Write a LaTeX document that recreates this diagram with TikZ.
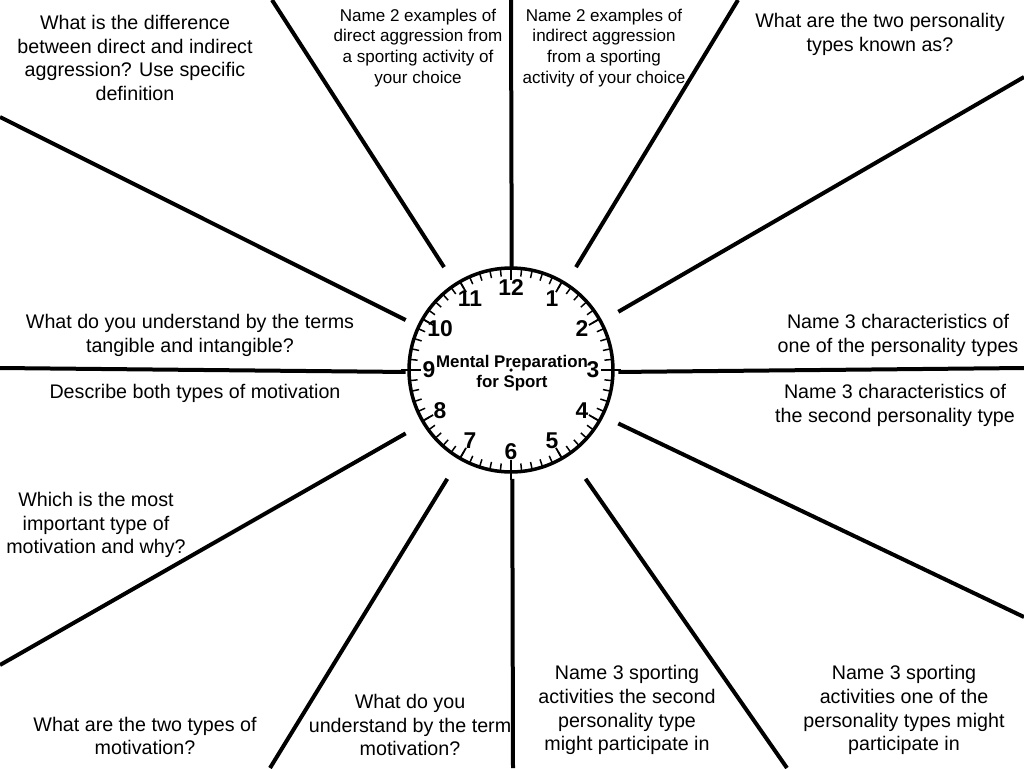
\documentclass[tikz,border=0pt]{standalone}
\usepackage{fontspec}
\setmainfont{Liberation Sans}
\usetikzlibrary{calc}

\begin{document}
\begin{tikzpicture}[x=0.02cm, y=-0.02cm,
  spoke/.style={black, line width=0.08cm},
  question/.style={align=center, inner sep=0, font=\fontsize{11.2}{13.6}\selectfont},
  smallq/.style={align=center, inner sep=0, font=\fontsize{9.7}{11.9}\selectfont},
  hour/.style={inner sep=0, font=\bfseries\fontsize{13}{13}\selectfont}]
\useasboundingbox (0,0) rectangle (1024,768);
% clock face
\coordinate (C) at (511,370);
\node[rectangle, inner sep=0, minimum width=4.24cm, minimum height=4.22cm] (clock) at (512,373) {};
\draw[line width=0.07cm] (C) circle[radius=2.04cm];
\foreach \a in {0,6,...,354}
 \draw[line width=0.03cm] ($(C)+(\a:2.04cm)$) -- ($(C)+(\a:1.88cm)$);
\foreach \a in {30,60,120,150,210,240,300,330}
 \draw[line width=0.035cm] ($(C)+(\a:2.04cm)$) -- ($(C)+(\a:1.8cm)$);
\foreach \a in {0,90,180,270}
 \draw[line width=0.04cm] ($(C)+(\a:2.2cm)$) -- ($(C)+(\a:1.8cm)$);
\foreach \h in {1,...,12}
 \node[hour] (h\h) at ($(C)+({90-30*\h}:1.64cm)$) {\h};
\fill (C) circle (1pt);
\node[align=center, inner sep=0, font=\bfseries\fontsize{9.6}{11.4}\selectfont] (title) at (512,373) {Mental Preparation\\for Sport};
% outer ends of the spokes
\coordinate (e0) at (511,0);
\coordinate (e1) at (272,0);
\coordinate (e2) at (738,0);
\coordinate (e3) at (0,117);
\coordinate (e4) at (1024,77);
\coordinate (e5) at (0,368);
\coordinate (e6) at (1024,368);
\coordinate (e7) at (0,665);
\coordinate (e8) at (1024,617);
\coordinate (e9) at (270,768);
\coordinate (e10) at (513,768);
\coordinate (e11) at (787,768);
\foreach \e in {0,...,11}
 \draw[spoke] (clock) -- (e\e);
% questions
\node[question] (difference) at (135,58) {What is the difference\\between direct and indirect\\aggression? Use specific\\definition};
\node[smallq] (directex) at (418,48) {Name 2 examples of\\direct aggression from\\a sporting activity of\\your choice};
\node[smallq] (indirectex) at (604,48) {Name 2 examples of\\indirect aggression\\from a sporting\\activity of your choice};
\node[question] (types) at (880,34) {What are the two personality\\types known as?};
\node[question] (tangible) at (190,335) {What do you understand by the terms\\tangible and intangible?};
\node[question] (describe) at (195,393) {Describe both types of motivation};
\node[question] (charone) at (898,335) {Name 3 characteristics of\\one of the personality types};
\node[question] (chartwo) at (895,405) {Name 3 characteristics of\\the second personality type};
\node[question] (important) at (96,525) {Which is the most\\important type of\\motivation and why?};
\node[question] (twotypes) at (145,736) {What are the two types of\\motivation?};
\node[question] (term) at (410,725) {What do you\\understand by the term\\motivation?};
\node[question] (sportsecond) at (627,710) {Name 3 sporting\\activities the second\\personality type\\might participate in};
\node[question] (sportone) at (904,710) {Name 3 sporting\\activities one of the\\personality types might\\participate in};
\end{tikzpicture}
\end{document}
